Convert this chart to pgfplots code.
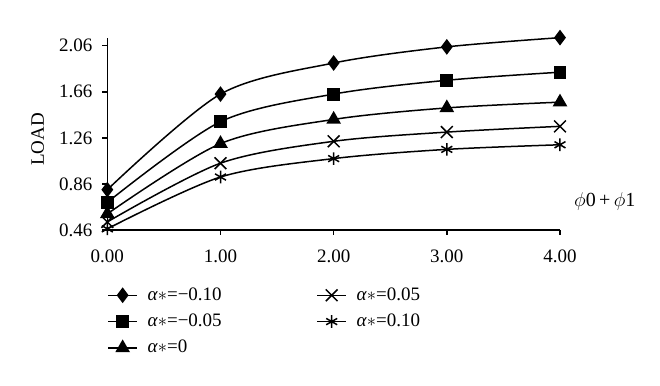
\documentclass[border=0pt]{standalone}
\usepackage{pgfplots}
\pgfplotsset{compat=1.18}
\usepackage{fontspec}
\setmainfont{Liberation Serif}
\begin{document}
\fontsize{11.4}{13.5}\selectfont
\begin{tikzpicture}
\useasboundingbox (0,0) rectangle (396pt,231.6pt);
\begin{axis}[
  at={(64.4pt,93.6pt)}, anchor=south west,
  scale only axis, width=271.6pt, height=115.4pt,
  xmin=0, xmax=4, ymin=0.46, ymax=2.13,
  clip=false,
  axis x line*=bottom, axis y line*=left,
  axis line style={line width=0.9pt, black},
  tick style={line width=0.9pt, black},
  tick align=outside, major tick length=3pt,
  xtick={0,1,2,3,4}, ytick={0.46,0.86,1.26,1.66,2.06},
  /pgf/number format/assume math mode=true,
  /pgf/number format/fixed, /pgf/number format/precision=2,
  /pgf/number format/fixed zerofill,
  font=\fontsize{11.4}{13.5}\selectfont,
  yticklabel style={xshift=-2pt},
  xticklabel style={yshift=-5pt},
  ylabel={LOAD},
  ylabel style={at={(axis description cs:-0.154,0.47)}, anchor=center},
  xlabel={\fontsize{12}{14}\selectfont$\phi$0\,+\,$\phi$1},
  xlabel style={at={(axis description cs:1.099,0.147)}, anchor=center},
  legend columns=2,
  legend cell align=left,
  legend style={at={(axis description cs:0,-0.28)}, anchor=north west,
    draw=none, fill=none, inner sep=0pt, row sep=2.5pt,
    /tikz/column 1/.style={column sep=4pt},
    /tikz/column 2/.style={column sep=55pt},
    /tikz/column 3/.style={column sep=4pt},
    font=\fontsize{11.4}{13.5}\selectfont},
  every axis plot/.append style={black, line width=0.9pt, smooth},
]
\addplot[mark=diamond*, mark size=4pt] coordinates {(0,0.81)(1,1.64)(2,1.91)(3,2.05)(4,2.13)};
\addlegendentry{\textit{α}$\ast$=−0.10}
\addplot[mark=x, mark size=5pt] coordinates {(0,0.53)(1,1.04)(2,1.23)(3,1.31)(4,1.36)};
\addlegendentry{\textit{α}$\ast$=0.05}
\addplot[mark=square*, mark size=3.4pt] coordinates {(0,0.70)(1,1.40)(2,1.64)(3,1.76)(4,1.83)};
\addlegendentry{\textit{α}$\ast$=−0.05}
\addplot[mark=asterisk, mark size=3.8pt] coordinates {(0,0.47)(1,0.92)(2,1.08)(3,1.16)(4,1.20)};
\addlegendentry{\textit{α}$\ast$=0.10}
\addplot[mark=triangle*, mark size=4.2pt] coordinates {(0,0.60)(1,1.21)(2,1.42)(3,1.52)(4,1.57)};
\addlegendentry{\textit{α}$\ast$=0}
\end{axis}
\end{tikzpicture}
\end{document}
